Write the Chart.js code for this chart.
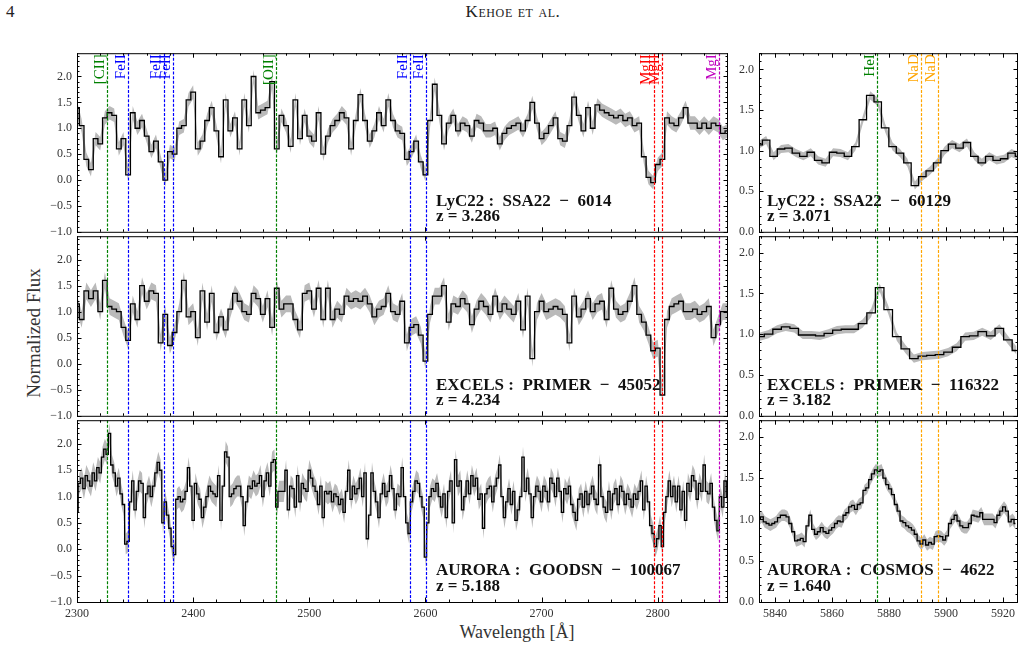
<!DOCTYPE html>
<html>
<head>
<meta charset="utf-8">
<script src="https://cdn.jsdelivr.net/npm/chart.js@4.4.0/dist/chart.umd.min.js"></script>
<style>
  body { margin: 0; background: #fff; }
  #page { position: relative; width: 1026px; height: 668px; overflow: hidden; background: #fff;
          font-family: "Liberation Serif", "DejaVu Serif", serif; color: #222; }
  #page canvas { position: absolute; }
  #pnum { position: absolute; left: 6px; top: 2px; font-size: 17px; }
  #running { position: absolute; left: 413px; width: 200px; top: 2px; text-align: center;
             font-size: 17px; font-variant: small-caps; letter-spacing: 0.6px; }
  #ylab { position: absolute; left: 34px; top: 333px; transform: translate(-50%, -50%) rotate(-90deg);
          font-size: 19px; white-space: nowrap; color: #333; }
  #xlab { position: absolute; left: 517px; top: 632px; transform: translate(-50%, -50%);
          font-size: 18px; white-space: nowrap; color: #333; }
</style>
</head>
<body>
<div id="page">
  <div id="pnum">4</div>
  <div id="running">Kehoe et al.</div>
  <div id="ylab">Normalized Flux</div>
  <div id="xlab">Wavelength [Å]</div>
</div>
<script>
// ---- data ----
// UV spectra (2300-2860 A), sampled on a regular grid
const uvStart = 2300;
const fluxSSA6014 = [
  1.4, 1.05, 0.4, 0.2, 0.8, 0.7, 1.2, 1.3, 1.25, 0.6, 0.8, 0.1, 1.3, 1.0, 1.15, 0.85, 0.55, 0.75, 0.35, 0.0,
  0.55, 0.5, 1.0, 1.05, 1.55, 1.7, 0.6, 0.75, 1.15, 1.4, 0.95, 0.45, 1.55, 0.95, 1.2, 0.6, 1.55, 1.05, 2.0, 1.3,
  1.35, 1.4, 1.9, 0.6, 1.25, 1.05, 0.65, 1.55, 0.8, 1.25, 0.85, 0.75, 1.3, 0.5, 0.85, 1.05, 1.15, 1.3, 1.2, 0.6,
  1.15, 1.65, 1.15, 0.75, 0.95, 1.3, 1.05, 1.55, 1.15, 0.95, 0.9, 0.4, 0.55, 0.75, 0.35, 0.1, 1.15, 1.85, 1.25, 0.7,
  1.1, 1.25, 0.95, 1.1, 1.05, 0.85, 1.15, 1.1, 0.95, 0.95, 1.0, 0.7, 0.9, 1.0, 1.05, 1.1, 0.95, 1.15, 1.5, 1.1,
  0.8, 0.9, 1.05, 1.2, 0.8, 0.75, 1.05, 1.6, 1.25, 0.95, 1.4, 1.0, 1.45, 1.35, 1.3, 1.25, 1.2, 1.25, 1.15, 1.2,
  1.05, 1.1, 0.45, 0.05, -0.05, 0.3, 0.4, 1.2, 1.1, 1.05, 1.2, 1.4, 1.1, 1.1, 1.0, 1.1, 1.0, 1.1, 1.05, 0.9,
  0.95
];
const fluxPRIMER45052 = [
  1.15, 0.85, 1.4, 1.25, 1.4, 1.0, 1.6, 1.1, 1.05, 1.0, 0.7, 0.45, 1.15, 0.85, 1.5, 1.2, 1.4, 1.35, 0.4, 0.95,
  0.35, 0.6, 1.0, 1.6, 0.9, 1.0, 0.5, 1.4, 0.8, 1.35, 0.6, 0.9, 0.65, 1.05, 1.35, 1.2, 1.0, 0.95, 1.35, 1.25,
  0.95, 1.25, 0.7, 1.45, 1.05, 1.15, 1.15, 0.85, 0.65, 1.35, 1.4, 1.05, 1.45, 0.85, 1.45, 0.85, 1.05, 0.95, 1.3, 1.2,
  1.25, 1.2, 1.3, 1.15, 0.9, 1.05, 1.1, 1.35, 1.0, 0.95, 1.2, 0.4, 0.7, 0.75, 0.55, 0.05, 0.95, 1.3, 1.3, 1.5,
  0.8, 1.15, 1.1, 1.25, 1.15, 0.75, 1.05, 1.2, 1.1, 0.95, 1.3, 1.0, 1.15, 1.05, 0.95, 1.2, 0.65, 1.3, 0.1, 1.0,
  1.2, 1.0, 1.05, 1.1, 1.05, 0.95, 0.4, 1.3, 0.9, 1.05, 1.25, 1.0, 1.15, 1.2, 0.85, 1.45, 1.05, 0.95, 1.0, 1.2,
  1.5, 0.95, 0.8, 0.55, 0.25, 0.3, -0.6, 0.85, 1.1, 1.15, 1.2, 1.0, 1.0, 1.05, 0.95, 1.0, 1.1, 0.5, 0.75, 1.0,
  1.0
];
const fluxGOODSN100067 = [
  0.7, 1.25, 1.35, 1.15, 1.4, 1.3, 1.2, 1.45, 1.3, 1.55, 1.45, 1.75, 1.9, 1.8, 2.2, 1.6, 1.45, 1.2, 1.35, 1.05,
  0.85, 0.1, 0.15, 0.9, 1.3, 0.75, 1.1, 1.3, 1.25, 0.6, 1.05, 1.2, 1.0, 1.2, 1.45, 1.65, 1.5, 0.5, 0.9, 0.65,
  0.4, 0.05, -0.1, 0.95, 1.0, 0.9, 0.95, 1.1, 1.55, 1.2, 0.55, 1.25, 1.05, 0.95, 0.6, 0.8, 1.0, 1.2, 1.1, 1.05,
  1.0, 1.4, 0.55, 1.2, 1.85, 1.75, 1.0, 1.05, 1.15, 1.2, 1.2, 1.0, 0.45, 0.9, 1.2, 1.15, 1.3, 1.2, 1.25, 1.4,
  1.0, 1.3, 1.45, 1.2, 1.65, 1.7, 0.8, 1.1, 1.1, 1.1, 1.5, 0.75, 1.2, 1.15, 0.8, 1.4, 0.9, 1.25, 1.15, 1.1,
  1.5, 1.35, 1.2, 1.1, 0.85, 1.2, 0.6, 1.1, 1.05, 1.1, 0.9, 1.05, 1.0, 0.85, 0.95, 0.7, 1.1, 1.5, 0.95, 1.2,
  1.05, 1.15, 1.35, 1.0, 1.45, 0.2, 0.65, 1.45, 1.1, 0.9, 0.6, 1.05, 1.25, 1.0, 1.1, 1.4, 1.15, 0.75, 1.05, 1.0,
  1.55, 1.0, 0.5, 0.3, 0.9, 1.1, 1.3, 1.25, 1.0, 0.8, -0.15, 0.5, 1.0, 1.15, 1.1, 1.25, 1.0, 0.8, 1.05, 0.6,
  1.1, 1.3, 0.5, 1.7, 1.2, 1.3, 0.75, 1.0, 1.3, 1.05, 1.4, 1.2, 1.35, 0.95, 1.05, 0.4, 1.05, 1.15, 1.2, 0.9,
  1.2, 1.35, 1.6, 1.0, 0.6, 0.9, 1.15, 0.85, 1.1, 0.55, 0.75, 1.0, 1.75, 1.1, 1.35, 1.05, 0.6, 1.0, 1.2, 1.1,
  0.9, 1.2, 1.1, 0.9, 1.35, 1.25, 1.0, 1.35, 1.1, 0.7, 1.15, 1.05, 1.2, 0.85, 0.7, 0.55, 0.95, 1.05, 0.8, 1.1,
  0.85, 1.05, 1.2, 0.95, 0.85, 1.6, 1.0, 0.8, 0.7, 1.1, 0.75, 1.05, 1.15, 0.85, 1.2, 1.1, 0.85, 1.05, 0.95, 0.8,
  1.05, 0.95, 1.1, 1.3, 0.75, 1.2, 0.9, 0.45, 0.3, 0.05, 0.2, 0.45, 0.05, 0.7, 1.0, 1.3, 1.0, 1.2, 0.9, 1.2,
  0.75, 1.1, 0.55, 1.25, 1.1, 1.4, 1.3, 0.95, 1.25, 1.1, 1.6, 1.1, 1.05, 1.25, 0.8, 0.55, 0.35, 1.0, 0.8, 1.3,
  1.0
];
// optical spectra around HeI / NaD
const fluxSSA60129 = [
  1.07, 1.13, 0.93, 1.02, 1.03, 0.97, 0.93, 0.98, 0.88, 0.85, 0.98, 0.97, 0.93, 1.05, 1.38, 1.68, 1.6, 1.28,
  1.05, 0.97, 0.85, 0.57, 0.68, 0.75, 0.85, 1.0, 1.08, 1.03, 1.1, 0.93, 0.85, 0.93, 0.88, 0.9, 0.97, 0.93
];
const fluxPRIMER116322 = [
  0.97, 1.0, 1.06, 1.09, 1.07, 0.99, 0.99, 0.98, 1.01, 1.05, 1.06, 1.06, 1.13, 1.26, 1.57, 1.3,
  0.97, 0.82, 0.7, 0.73, 0.74, 0.75, 0.78, 0.84, 0.97, 0.98, 1.03, 0.98, 1.07, 0.93, 0.8
];
const fluxCOSMOS4622 = [
  1.0, 1.03, 0.97, 0.95, 0.93, 0.95, 0.97, 1.02, 1.05, 1.05, 1.03, 0.95, 0.85, 0.74, 0.75, 0.77, 0.73, 0.92,
  1.05, 0.88, 0.82, 0.85, 0.9, 0.85, 0.83, 0.87, 0.9, 0.95, 0.98, 0.97, 1.05, 1.08, 1.15, 1.17, 1.12, 1.18,
  1.2, 1.35, 1.38, 1.48, 1.55, 1.6, 1.58, 1.6, 1.5, 1.42, 1.37, 1.3, 1.18, 1.1, 0.98, 0.96, 0.92, 0.9,
  0.87, 0.82, 0.74, 0.7, 0.75, 0.69, 0.72, 0.7, 0.79, 0.8, 0.79, 0.75, 0.8, 0.95, 1.0, 1.05, 0.98, 0.92,
  0.9, 0.9, 0.95, 1.05, 1.04, 1.03, 1.08, 1.0, 1.0, 1.0, 1.0, 0.96, 1.05, 1.1, 1.15, 1.1, 0.97, 1.0, 0.95
];
// typical 1-sigma width of the grey band in each panel
const errSSA6014 = 0.13, errPRIMER45052 = 0.16, errGOODSN100067 = 0.2;
const errSSA60129 = 0.05, errPRIMER116322 = 0.05, errCOSMOS4622 = 0.07;

// line markers
const uvLineWaves  = [2326.0, 2344.2, 2374.5, 2382.8, 2471.0, 2586.7, 2600.2, 2796.4, 2803.5, 2853.0];
const uvLineNames  = ['[CII]', 'FeII', 'FeII', 'FeII', '[OII]', 'FeII', 'FeII', 'MgII', 'MgII', 'MgI'];
const uvLineColors = ['#008000', '#0000ff', '#0000ff', '#0000ff', '#008000', '#0000ff', '#0000ff', '#ff0000', '#ff0000', '#bf00bf'];
const optLineWaves  = [5875.7, 5891.3, 5897.3];
const optLineNames  = ['HeI', 'NaD', 'NaD'];
const optLineColors = ['#008000', '#ffa500', '#ffa500'];

// tick labels
const uvXTicks = [2300, 2400, 2500, 2600, 2700, 2800];
const optXTicks = [5840, 5860, 5880, 5900, 5920];
const uvYTicks = [-1.0, -0.5, 0.0, 0.5, 1.0, 1.5, 2.0];
const optYTicks = [0.0, 0.5, 1.0, 1.5, 2.0];

// ---- drawing ----
Chart.defaults.font.family = '"Liberation Serif", "DejaVu Serif", serif';
Chart.defaults.font.size = 12;
Chart.defaults.color = '#333';

function waveGrid(start, step, n) {
  const w = [];
  for (let i = 0; i < n; i++) w.push(start + step * i);
  return w;
}

function fmtY(v) {
  return (v < 0 ? '\u2212' : '') + Math.abs(v).toFixed(1);
}

const frameTicks = {
  id: 'frameTicks',
  afterDraw(chart, args, o) {
    const { ctx, chartArea: a, scales: { x, y } } = chart;
    ctx.save();
    ctx.beginPath();
    ctx.rect(a.left, a.top, a.right - a.left, a.bottom - a.top);
    ctx.clip();
    // marker lines
    o.lineWaves.forEach((w, i) => {
      const px = Math.round(x.getPixelForValue(w)) + 0.5;
      ctx.strokeStyle = o.lineColors[i];
      ctx.lineWidth = 1.2;
      ctx.setLineDash([3, 1.6]);
      ctx.beginPath();
      ctx.moveTo(px, a.top);
      ctx.lineTo(px, a.bottom);
      ctx.stroke();
    });
    ctx.setLineDash([]);
    ctx.restore();

    ctx.save();
    if (o.showNames) {
      ctx.font = '15px "Liberation Serif", serif';
      ctx.textAlign = 'right';
      ctx.textBaseline = 'bottom';
      o.lineWaves.forEach((w, i) => {
        const px = x.getPixelForValue(w);
        ctx.save();
        ctx.translate(px + 0.5, a.top + 1);
        ctx.rotate(-Math.PI / 2);
        ctx.fillStyle = o.lineColors[i];
        ctx.fillText(o.lineNames[i], 0, 0);
        ctx.restore();
      });
    }
    // frame
    ctx.strokeStyle = '#000';
    ctx.lineWidth = 1;
    ctx.strokeRect(a.left + 0.5, a.top + 0.5, a.right - a.left - 1, a.bottom - a.top);
    // inward ticks
    const tick = (x1, y1, x2, y2) => { ctx.moveTo(x1, y1); ctx.lineTo(x2, y2); };
    ctx.beginPath();
    const drawX = (v, len) => {
      const px = Math.round(x.getPixelForValue(v)) + 0.5;
      if (px < a.left || px > a.right) return;
      tick(px, a.bottom, px, a.bottom - len);
      tick(px, a.top, px, a.top + len);
    };
    const drawY = (v, len) => {
      const py = Math.round(y.getPixelForValue(v)) + 0.5;
      if (py < a.top || py > a.bottom + 1) return;
      tick(a.left, py, a.left + len, py);
      tick(a.right, py, a.right - len, py);
    };
    o.xMajor.forEach(v => drawX(v, 4.5));
    o.yMajor.forEach(v => drawY(v, 4.5));
    for (let k = Math.ceil(x.min / o.xMinor); k * o.xMinor <= x.max; k++) {
      const v = k * o.xMinor;
      if (!o.xMajor.includes(v)) drawX(v, 2.5);
    }
    for (let k = Math.ceil(y.min / 0.1 - 1e-6); k * 0.1 <= y.max + 1e-6; k++) {
      if (k % 5 !== 0) drawY(k * 0.1, 2.5);
    }
    ctx.stroke();
    // object label
    ctx.fillStyle = '#111';
    ctx.font = 'bold 17px "Liberation Serif", serif';
    ctx.textAlign = 'left';
    ctx.textBaseline = 'middle';
    const tx = a.left + o.textX;
    ctx.fillText(o.title, tx, a.top + (a.bottom - a.top) * 0.83);
    ctx.fillText(o.zText, tx, a.top + (a.bottom - a.top) * 0.915);
    ctx.restore();
  }
};

const page = document.getElementById('page');

function makePanel(p) {
  const [L, T, R, B] = p.area;
  const padL = 50, padT = 10, padR = 8, padB = p.bottom ? 34 : 10;
  const cv = document.createElement('canvas');
  cv.width = R - L + padL + padR;
  cv.height = B - T + padT + padB;
  cv.style.left = (L - padL) + 'px';
  cv.style.top = (T - padT) + 'px';
  page.appendChild(cv);

  const wave = waveGrid(p.start, p.step, p.flux.length);
  const lo = p.flux.map((f, i) => ({ x: wave[i], y: f - p.err }));
  const hi = p.flux.map((f, i) => ({ x: wave[i], y: f + p.err }));
  const pts = p.flux.map((f, i) => ({ x: wave[i], y: f }));

  new Chart(cv, {
    type: 'line',
    data: {
      datasets: [
        { data: lo, order: 2, borderWidth: 0, borderColor: 'rgba(0,0,0,0)', pointRadius: 0, fill: false },
        { data: hi, order: 1, borderWidth: 0, borderColor: 'rgba(0,0,0,0)', pointRadius: 0, fill: '-1',
          backgroundColor: '#bababa' },
        { data: pts, order: 0, borderColor: '#000', borderWidth: 1.3, pointRadius: 0, stepped: 'middle', fill: false }
      ]
    },
    options: {
      responsive: false,
      animation: false,
      devicePixelRatio: 1,
      layout: { padding: { left: 0, top: padT, right: padR, bottom: p.bottom ? 10 : padB } },
      plugins: {
        legend: { display: false },
        tooltip: { enabled: false },
        frameTicks: {
          lineWaves: p.lineWaves, lineNames: p.lineNames, lineColors: p.lineColors,
          showNames: p.showNames, xMajor: p.xTicks, xMinor: p.xMinor, yMajor: p.yTicks,
          title: p.title, zText: p.zText, textX: p.textX
        }
      },
      scales: {
        x: {
          type: 'linear', min: p.xRange[0], max: p.xRange[1], display: p.bottom,
          grid: { display: false, drawTicks: false }, border: { display: false },
          afterBuildTicks: s => { s.ticks = p.xTicks.map(v => ({ value: v })); },
          afterFit: s => { s.height = p.bottom ? 24 : 0; },
          ticks: { autoSkip: false, maxRotation: 0, padding: 5, callback: v => String(v) }
        },
        y: {
          type: 'linear', min: p.yRange[0], max: p.yRange[1],
          grid: { display: false, drawTicks: false }, border: { display: false },
          afterBuildTicks: s => { s.ticks = p.yTicks.map(v => ({ value: v })); },
          afterFit: s => { s.width = padL; },
          ticks: { autoSkip: false, padding: 5, callback: v => fmtY(v) }
        }
      }
    },
    plugins: [frameTicks]
  });
}

const leftCommon = {
  xRange: [2300, 2860.5], yRange: [-1, 2.45], xTicks: uvXTicks, xMinor: 20, yTicks: uvYTicks,
  lineWaves: uvLineWaves, lineNames: uvLineNames, lineColors: uvLineColors, textX: 359
};
const rightCommon = {
  xRange: [5834.4, 5925.3], yRange: [0, 2.2], xTicks: optXTicks, xMinor: 5, yTicks: optYTicks,
  lineWaves: optLineWaves, lineNames: optLineNames, lineColors: optLineColors, textX: 8
};

const panels = [
  Object.assign({}, leftCommon, { area: [77, 51, 728, 234], flux: fluxSSA6014, start: uvStart, step: 4,
    err: errSSA6014, showNames: true, bottom: false,
    title: 'LyC22 :  SSA22  \u2212  6014', zText: 'z = 3.286' }),
  Object.assign({}, leftCommon, { area: [77, 234, 728, 418], flux: fluxPRIMER45052, start: uvStart, step: 4,
    err: errPRIMER45052, showNames: false, bottom: false,
    title: 'EXCELS :  PRIMER  \u2212  45052', zText: 'z = 4.234' }),
  Object.assign({}, leftCommon, { area: [77, 418, 728, 602], flux: fluxGOODSN100067, start: uvStart, step: 2,
    err: errGOODSN100067, showNames: false, bottom: true,
    title: 'AURORA :  GOODSN  \u2212  100067', zText: 'z = 5.188' }),
  Object.assign({}, rightCommon, { area: [759, 51, 1018, 234], flux: fluxSSA60129, start: 5834.3, step: 2.61,
    err: errSSA60129, showNames: true, bottom: false,
    title: 'LyC22 :  SSA22  \u2212  60129', zText: 'z = 3.071' }),
  Object.assign({}, rightCommon, { area: [759, 234, 1018, 418], flux: fluxPRIMER116322, start: 5834.75, step: 3.0,
    err: errPRIMER116322, showNames: false, bottom: false,
    title: 'EXCELS :  PRIMER  \u2212  116322', zText: 'z = 3.182' }),
  Object.assign({}, rightCommon, { area: [759, 418, 1018, 602], flux: fluxCOSMOS4622, start: 5834.4, step: 1.0,
    err: errCOSMOS4622, showNames: false, bottom: true,
    title: 'AURORA :  COSMOS  \u2212  4622', zText: 'z = 1.640' })
];

panels.forEach(makePanel);
</script>
</body>
</html>
